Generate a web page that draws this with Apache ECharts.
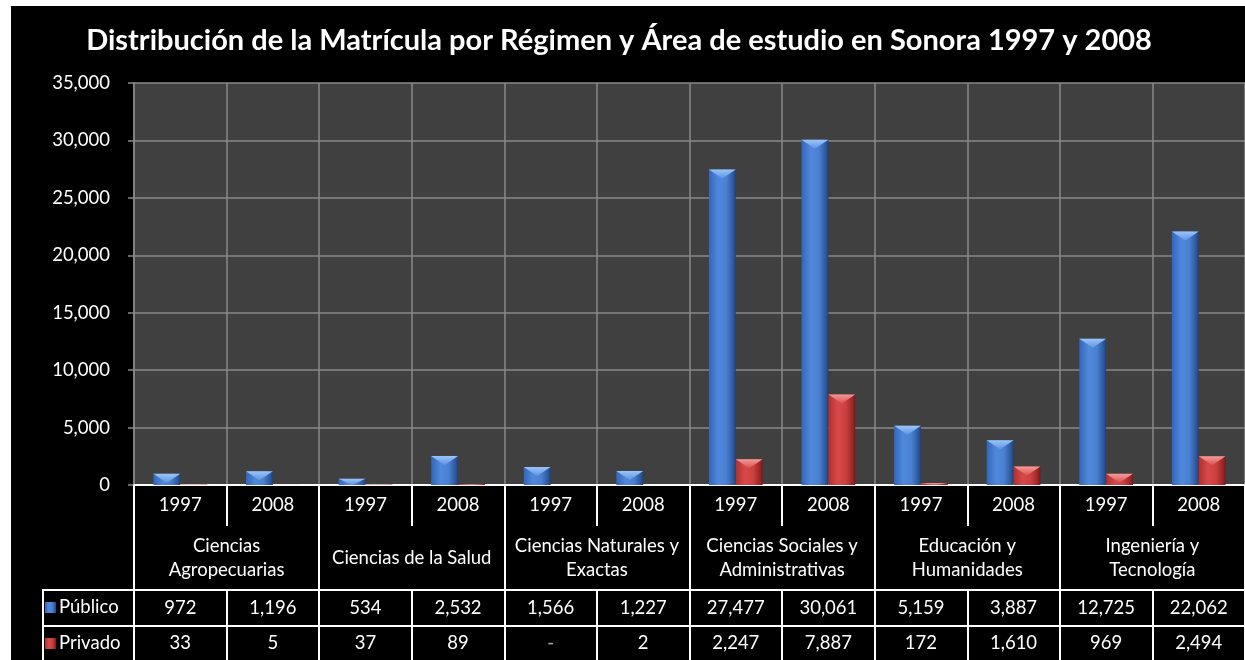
<!DOCTYPE html>
<html>
<head>
<meta charset="utf-8">
<script src="https://cdn.jsdelivr.net/npm/echarts@6/dist/echarts.min.js"></script>
<style>
html,body{margin:0;padding:0;background:#fff;width:1245px;height:660px;overflow:hidden;}
#chart{position:absolute;left:11px;top:6px;width:1234px;height:654px;}
</style>
</head>
<body>
<div id="chart"></div>
<script>
// ---- data ----
const titleText = 'Distribución de la Matrícula por Régimen y Área de estudio en Sonora 1997 y 2008';
const years = ['1997','2008','1997','2008','1997','2008','1997','2008','1997','2008','1997','2008'];
const areas = ['Ciencias\nAgropecuarias','Ciencias de la Salud','Ciencias Naturales y\nExactas','Ciencias Sociales y\nAdministrativas','Educación y\nHumanidades','Ingeniería y\nTecnología'];
const seriesNames = ['Público','Privado'];
const publico = [972, 1196, 534, 2532, 1566, 1227, 27477, 30061, 5159, 3887, 12725, 22062];
const privado = [33, 5, 37, 89, 0, 2, 2247, 7887, 172, 1610, 969, 2494];
const yTicks = {min: 0, max: 35000, interval: 5000};

const FONT = 'Lato';
const FS = 18.5;
const fmt = v => v === 0 ? '-' : v.toLocaleString('en-US');
const idx = years.map((_, i) => i);

const blueGrad = {type:'linear',x:0,y:0,x2:1,y2:0,colorStops:[
  {offset:0,color:'#3466ba'},{offset:0.35,color:'#5089dc'},{offset:0.65,color:'#4a80d2'},{offset:0.92,color:'#2c5599'},{offset:1,color:'#1f3f75'}]};
const redGrad = {type:'linear',x:0,y:0,x2:1,y2:0,colorStops:[
  {offset:0,color:'#b03030'},{offset:0.35,color:'#d84a4a'},{offset:0.65,color:'#cc4040'},{offset:0.92,color:'#962424'},{offset:1,color:'#701818'}]};
const blueCap = {type:'linear',x:0,y:0,x2:0,y2:1,colorStops:[{offset:0,color:'#9cc4f7'},{offset:1,color:'#5f95e2'}]};
const redCap = {type:'linear',x:0,y:0,x2:0,y2:1,colorStops:[{offset:0,color:'#f29a9a'},{offset:1,color:'#d85252'}]};

const BW = 0.29;
function capRenderer(side, fill) {
  return function (params, api) {
    const v = api.value(1);
    if (!v) return null;
    const top = api.coord([api.value(0), v]);
    const base = api.coord([api.value(0), 0]);
    const band = api.size([1, 0])[0];
    const w = band * BW;
    const cx = top[0] + side * w / 2;
    const h = Math.min(9, base[1] - top[1]);
    if (h < 1) return null;
    return {type:'polygon', shape:{points:[[cx - w/2, top[1]],[cx + w/2, top[1]],[cx, top[1] + h]]}, style:{fill: fill}};
  };
}

const chart = echarts.init(document.getElementById('chart'));
const white = '#ffffff';
const gridGray = '#888888';

chart.setOption({
  backgroundColor: '#000000',
  animation: false,
  title: {
    text: titleText, left: 608, top: 20, textAlign: 'center', padding: 0,
    textStyle: {color: white, fontFamily: FONT, fontWeight: 'bold', fontSize: 29}
  },
  legend: {
    orient: 'vertical', left: 34, top: 592, padding: 0, itemGap: 17,
    itemWidth: 11, itemHeight: 11, icon: 'rect', data: seriesNames,
    textStyle: {color: white, fontFamily: FONT, fontSize: FS, padding: [0,0,0,-2]}
  },
  grid: {left: 123, right: 0, top: 77, bottom: 175, show: true, backgroundColor: '#404040', borderWidth: 0},
  xAxis: [
    {
      type: 'category', data: years, position: 'bottom', offset: 0,
      axisLine: {show: true, lineStyle: {color: white, width: 2}},
      axisTick: {show: true, interval: 0, length: 41, lineStyle: {color: white, width: 2}},
      axisLabel: {interval: 0, color: white, fontFamily: FONT, fontSize: FS, margin: 20, verticalAlign: 'middle'},
      splitLine: {show: true, interval: 0, lineStyle: {color: gridGray, width: 1.5}}
    },
    {
      type: 'category', data: areas, position: 'bottom', offset: 0,
      axisLine: {show: false},
      axisTick: {show: true, interval: 0, length: 105, lineStyle: {color: white, width: 2}},
      axisLabel: {interval: 0, color: white, fontFamily: FONT, fontSize: FS, lineHeight: 24, margin: 73, verticalAlign: 'middle', align: 'center'},
      splitLine: {show: false}
    },
    {
      type: 'category', data: publico.map(fmt), position: 'bottom', offset: 105,
      axisLine: {show: true, lineStyle: {color: white, width: 2}},
      axisTick: {show: true, interval: 0, length: 36, lineStyle: {color: white, width: 2}},
      axisLabel: {interval: 0, color: white, fontFamily: FONT, fontSize: FS, margin: 18, verticalAlign: 'middle'},
      splitLine: {show: false}
    },
    {
      type: 'category', data: privado.map(fmt), position: 'bottom', offset: 141,
      axisLine: {show: true, lineStyle: {color: white, width: 2}},
      axisTick: {show: true, interval: 0, length: 36, lineStyle: {color: white, width: 2}},
      axisLabel: {interval: 0, fontFamily: FONT, fontSize: FS, margin: 17, verticalAlign: 'middle',
        color: (val) => val === '-' ? '#aaaaaa' : white},
      splitLine: {show: false}
    }
  ],
  yAxis: {
    type: 'value', min: yTicks.min, max: yTicks.max, interval: yTicks.interval,
    axisLine: {show: true, lineStyle: {color: gridGray, width: 1.5}},
    axisTick: {show: true, length: 6, lineStyle: {color: gridGray, width: 1.5}},
    axisLabel: {color: white, fontFamily: FONT, fontSize: FS, margin: 24, formatter: v => v.toLocaleString('en-US')},
    splitLine: {show: true, lineStyle: {color: gridGray, width: 1.5}}
  },
  graphic: [
    {type: 'line', shape: {x1: 32, y1: 584, x2: 124, y2: 584}, style: {stroke: white, lineWidth: 2}},
    {type: 'line', shape: {x1: 32, y1: 620, x2: 124, y2: 620}, style: {stroke: white, lineWidth: 2}},
    {type: 'line', shape: {x1: 32, y1: 583, x2: 32, y2: 660}, style: {stroke: white, lineWidth: 2}}
  ],
  series: [
    {name: seriesNames[0], type: 'bar', xAxisIndex: 0, data: publico, barWidth: (BW*100)+'%', barGap: '0%',
      itemStyle: {color: blueGrad}},
    {name: seriesNames[1], type: 'bar', xAxisIndex: 0, data: privado, barWidth: (BW*100)+'%', barGap: '0%',
      itemStyle: {color: redGrad}},
    {type: 'custom', xAxisIndex: 0, data: idx.map(i => [i, publico[i]]), encode: {x: 0, y: 1},
      renderItem: capRenderer(-1, blueCap), z: 3, silent: true},
    {type: 'custom', xAxisIndex: 0, data: idx.map(i => [i, privado[i]]), encode: {x: 0, y: 1},
      renderItem: capRenderer(1, redCap), z: 3, silent: true}
  ]
});
</script>
</body>
</html>
